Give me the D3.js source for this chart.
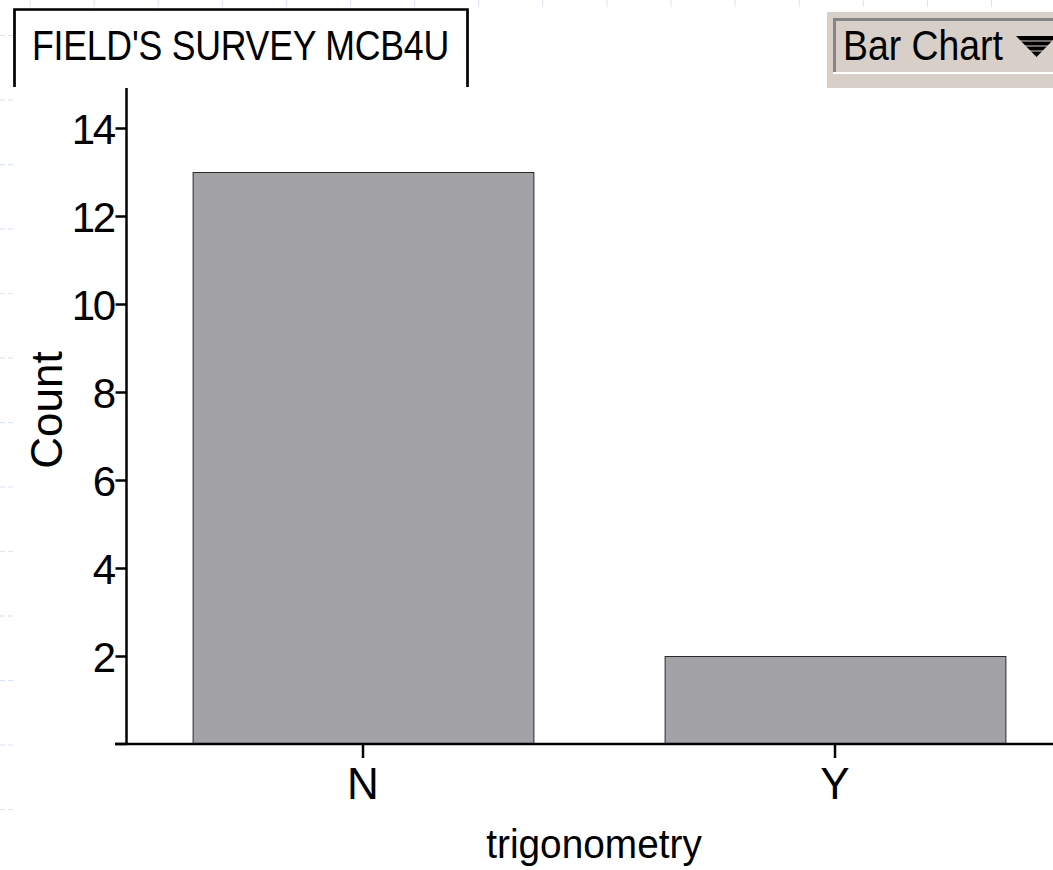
<!DOCTYPE html>
<html>
<head>
<meta charset="utf-8">
<script src="https://cdn.jsdelivr.net/npm/d3@7"></script>
<style>
  body { margin: 0; background: #fff; }
  svg { display: block; font-family: "Liberation Sans", Arial, Helvetica, sans-serif; }
</style>
</head>
<body>
<div id="barplot"></div>
<script>
// data
var categories = ["N", "Y"]
var counts = [13, 2]
var yTicks = [2, 4, 6, 8, 10, 12, 14]
var titleText = "FIELD'S SURVEY MCB4U"
var xTitle = "trigonometry"
var yTitle = "Count"

var width = 1053,
    height = 870

var svg = d3.select("#barplot")
    .append("svg")
    .attr("width", width)
    .attr("height", height)

// faint document grid marks along the top and left edge
var grid = svg.append("g").attr("stroke", "#dbe1f7").attr("stroke-width", 1)
d3.range(30, width, 64.1).forEach(function(x) {
    grid.append("line").attr("x1", x).attr("x2", x).attr("y1", 0).attr("y2", 7)
})
d3.range(35.5, height, 64.5).forEach(function(y) {
    grid.append("line").attr("x1", 0).attr("x2", 5).attr("y1", y).attr("y2", y)
    grid.append("line").attr("x1", 8).attr("x2", 13).attr("y1", y).attr("y2", y)
})

// scales
var x = d3.scaleBand()
    .domain(categories)
    .range([127, 1071])
    .paddingInner(0.278)
    .paddingOuter(0.139)

var y = d3.scaleLinear()
    .domain([0, 15])
    .range([744, 84])

// bars
svg.selectAll("rect.bar")
    .data(categories)
    .enter()
    .append("rect")
    .attr("class", "bar")
    .attr("x", function(d) { return x(d) + 0.5 })
    .attr("y", function(d, i) { return y(counts[i]) + 0.5 })
    .attr("width", x.bandwidth())
    .attr("height", function(d, i) { return y(0) - y(counts[i]) })
    .attr("fill", "#a3a2a7")
    .attr("stroke", "#2a2a2a")
    .attr("stroke-width", 1)

// y axis
var yAxis = svg.append("g")
    .attr("transform", "translate(126.5,0)")
    .call(d3.axisLeft(y).tickValues(yTicks).tickSize(11).tickPadding(2).tickFormat(d3.format("d")))
yAxis.select(".domain").remove()
yAxis.selectAll(".tick line").attr("stroke", "#000").attr("stroke-width", 2.5)
yAxis.selectAll(".tick text")
    .attr("font-size", 42)
    .attr("letter-spacing", -2.5)
    .attr("dy", "0.36em")
    .attr("fill", "#000")
yAxis.append("line")
    .attr("x1", 0).attr("x2", 0)
    .attr("y1", 88).attr("y2", 745)
    .attr("stroke", "#000").attr("stroke-width", 2.5)
// zero tick, unlabeled
yAxis.append("line")
    .attr("x1", -11).attr("x2", 0)
    .attr("y1", y(0)).attr("y2", y(0))
    .attr("stroke", "#000").attr("stroke-width", 2.5)

// x axis
var xAxis = svg.append("g")
    .attr("transform", "translate(0," + y(0) + ")")
    .call(d3.axisBottom(x).tickSize(14).tickPadding(10))
xAxis.select(".domain").remove()
xAxis.append("line")
    .attr("x1", 115).attr("x2", width)
    .attr("y1", 0).attr("y2", 0)
    .attr("stroke", "#000").attr("stroke-width", 2.5)
xAxis.selectAll(".tick line").attr("stroke", "#000").attr("stroke-width", 2.5)
xAxis.selectAll(".tick text")
    .attr("font-size", 44)
    .attr("fill", "#000")

// axis titles
svg.append("text")
    .attr("transform", "translate(594,858) scale(0.97,1)")
    .attr("text-anchor", "middle")
    .attr("font-size", 40)
    .text(xTitle)

svg.append("text")
    .attr("transform", "translate(62,410) rotate(-90)")
    .attr("text-anchor", "middle")
    .attr("font-size", 44)
    .text(yTitle)

// title box (open at the bottom)
svg.append("path")
    .attr("d", "M14.5,87 L14.5,9.5 L467.5,9.5 L467.5,87")
    .attr("fill", "none")
    .attr("stroke", "#000")
    .attr("stroke-width", 2.7)
svg.append("text")
    .attr("transform", "translate(32,60) scale(0.85,1)")
    .attr("font-size", 42)
    .attr("letter-spacing", -0.3)
    .text(titleText)

// "Bar Chart" pop-up menu
var menu = svg.append("g")
menu.append("rect")
    .attr("x", 827).attr("y", 12)
    .attr("width", width - 827).attr("height", 76)
    .attr("fill", "#d8d0c8")
menu.append("path")
    .attr("d", "M834.5,72 L834.5,19.5 L" + width + ",19.5")
    .attr("fill", "none")
    .attr("stroke", "#858585")
    .attr("stroke-width", 3)
menu.append("line")
    .attr("x1", 833).attr("x2", width)
    .attr("y1", 73).attr("y2", 73)
    .attr("stroke", "#fff")
    .attr("stroke-width", 2)
menu.append("text")
    .attr("transform", "translate(843,60) scale(0.89,1)")
    .attr("font-size", 42)
    .text("Bar Chart")
menu.append("path")
    .attr("d", "M1016,36 L1057,36 L1036.5,57 Z")
    .attr("fill", "#000")
var stripes = menu.append("g").attr("stroke", "#d8d0c8").attr("stroke-width", 1)
d3.range(41, 56, 5).forEach(function(yy) {
    stripes.append("line").attr("x1", 1010).attr("x2", 1060).attr("y1", yy).attr("y2", yy)
})
</script>
</body>
</html>
